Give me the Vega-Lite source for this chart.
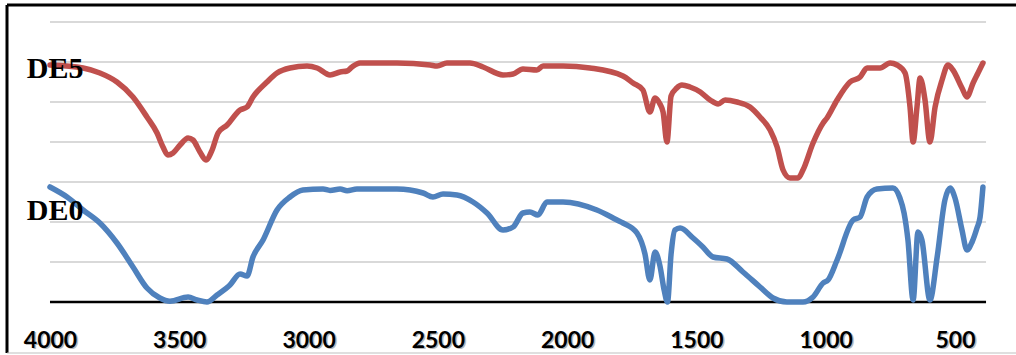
{
  "$schema": "https://vega.github.io/schema/vega-lite/v6.json",
  "width": 1009.5,
  "height": 348,
  "autosize": "none",
  "padding": {"left": 6.5, "top": 4.5, "right": 0, "bottom": 2.5},
  "background": "white",
  "config": {"view": {"stroke": null}},
  "datasets": {
    "grid": [{"g": 1}, {"g": 2}, {"g": 3}, {"g": 4}, {"g": 5}, {"g": 6}, {"g": 7}],
    "ticks": [{"t": 4000}, {"t": 3500}, {"t": 3000}, {"t": 2500}, {"t": 2000}, {"t": 1500}, {"t": 1000}, {"t": 500}],
    "spectra": [
      {"s": "DE5", "wn": 4000, "a": 5.925}, {"s": "DE5", "wn": 3872, "a": 5.85}, {"s": "DE5", "wn": 3807, "a": 5.725},
      {"s": "DE5", "wn": 3741, "a": 5.5}, {"s": "DE5", "wn": 3679, "a": 5.125}, {"s": "DE5", "wn": 3625, "a": 4.625},
      {"s": "DE5", "wn": 3586, "a": 4.225}, {"s": "DE5", "wn": 3563, "a": 3.875}, {"s": "DE5", "wn": 3544, "a": 3.675},
      {"s": "DE5", "wn": 3524, "a": 3.725}, {"s": "DE5", "wn": 3497, "a": 3.925}, {"s": "DE5", "wn": 3466, "a": 4.1},
      {"s": "DE5", "wn": 3447, "a": 4.05}, {"s": "DE5", "wn": 3420, "a": 3.75}, {"s": "DE5", "wn": 3397, "a": 3.55},
      {"s": "DE5", "wn": 3373, "a": 3.8}, {"s": "DE5", "wn": 3350, "a": 4.225}, {"s": "DE5", "wn": 3315, "a": 4.425},
      {"s": "DE5", "wn": 3265, "a": 4.8}, {"s": "DE5", "wn": 3238, "a": 4.875}, {"s": "DE5", "wn": 3215, "a": 5.125},
      {"s": "DE5", "wn": 3161, "a": 5.5}, {"s": "DE5", "wn": 3122, "a": 5.725}, {"s": "DE5", "wn": 3072, "a": 5.85},
      {"s": "DE5", "wn": 3006, "a": 5.9}, {"s": "DE5", "wn": 2967, "a": 5.85}, {"s": "DE5", "wn": 2917, "a": 5.675},
      {"s": "DE5", "wn": 2878, "a": 5.75}, {"s": "DE5", "wn": 2851, "a": 5.775}, {"s": "DE5", "wn": 2832, "a": 5.875},
      {"s": "DE5", "wn": 2801, "a": 5.975}, {"s": "DE5", "wn": 2658, "a": 5.975}, {"s": "DE5", "wn": 2530, "a": 5.925},
      {"s": "DE5", "wn": 2503, "a": 5.9}, {"s": "DE5", "wn": 2465, "a": 5.975}, {"s": "DE5", "wn": 2376, "a": 5.975},
      {"s": "DE5", "wn": 2325, "a": 5.875}, {"s": "DE5", "wn": 2248, "a": 5.675}, {"s": "DE5", "wn": 2209, "a": 5.7},
      {"s": "DE5", "wn": 2171, "a": 5.825}, {"s": "DE5", "wn": 2117, "a": 5.8}, {"s": "DE5", "wn": 2093, "a": 5.9},
      {"s": "DE5", "wn": 2016, "a": 5.9}, {"s": "DE5", "wn": 1912, "a": 5.85}, {"s": "DE5", "wn": 1784, "a": 5.65},
      {"s": "DE5", "wn": 1745, "a": 5.475}, {"s": "DE5", "wn": 1707, "a": 5.3}, {"s": "DE5", "wn": 1680, "a": 4.75},
      {"s": "DE5", "wn": 1660, "a": 5.1}, {"s": "DE5", "wn": 1641, "a": 4.95}, {"s": "DE5", "wn": 1629, "a": 4.75},
      {"s": "DE5", "wn": 1614, "a": 4.0}, {"s": "DE5", "wn": 1598, "a": 5.15}, {"s": "DE5", "wn": 1576, "a": 5.35},
      {"s": "DE5", "wn": 1556, "a": 5.425}, {"s": "DE5", "wn": 1525, "a": 5.375}, {"s": "DE5", "wn": 1485, "a": 5.25},
      {"s": "DE5", "wn": 1447, "a": 5.05}, {"s": "DE5", "wn": 1416, "a": 4.95}, {"s": "DE5", "wn": 1389, "a": 5.05},
      {"s": "DE5", "wn": 1343, "a": 5.0}, {"s": "DE5", "wn": 1293, "a": 4.875}, {"s": "DE5", "wn": 1254, "a": 4.625},
      {"s": "DE5", "wn": 1215, "a": 4.3}, {"s": "DE5", "wn": 1188, "a": 3.875}, {"s": "DE5", "wn": 1165, "a": 3.3},
      {"s": "DE5", "wn": 1138, "a": 3.1}, {"s": "DE5", "wn": 1107, "a": 3.1}, {"s": "DE5", "wn": 1088, "a": 3.3},
      {"s": "DE5", "wn": 1049, "a": 3.975}, {"s": "DE5", "wn": 1010, "a": 4.475}, {"s": "DE5", "wn": 995, "a": 4.6},
      {"s": "DE5", "wn": 956, "a": 5.05}, {"s": "DE5", "wn": 906, "a": 5.5}, {"s": "DE5", "wn": 867, "a": 5.625},
      {"s": "DE5", "wn": 840, "a": 5.85}, {"s": "DE5", "wn": 790, "a": 5.85}, {"s": "DE5", "wn": 751, "a": 5.975},
      {"s": "DE5", "wn": 724, "a": 5.925}, {"s": "DE5", "wn": 693, "a": 5.725}, {"s": "DE5", "wn": 674, "a": 4.875},
      {"s": "DE5", "wn": 662, "a": 4.0}, {"s": "DE5", "wn": 647, "a": 4.875}, {"s": "DE5", "wn": 635, "a": 5.6},
      {"s": "DE5", "wn": 616, "a": 5.05}, {"s": "DE5", "wn": 597, "a": 4.0}, {"s": "DE5", "wn": 577, "a": 4.875},
      {"s": "DE5", "wn": 550, "a": 5.55}, {"s": "DE5", "wn": 527, "a": 5.925}, {"s": "DE5", "wn": 508, "a": 5.8},
      {"s": "DE5", "wn": 473, "a": 5.35}, {"s": "DE5", "wn": 454, "a": 5.125}, {"s": "DE5", "wn": 430, "a": 5.475},
      {"s": "DE5", "wn": 411, "a": 5.725}, {"s": "DE5", "wn": 392, "a": 5.975},
      {"s": "DE0", "wn": 4000, "a": 2.875}, {"s": "DE0", "wn": 3934, "a": 2.625}, {"s": "DE0", "wn": 3872, "a": 2.3},
      {"s": "DE0", "wn": 3807, "a": 1.975}, {"s": "DE0", "wn": 3741, "a": 1.475}, {"s": "DE0", "wn": 3679, "a": 0.875},
      {"s": "DE0", "wn": 3625, "a": 0.35}, {"s": "DE0", "wn": 3575, "a": 0.1}, {"s": "DE0", "wn": 3536, "a": 0.02},
      {"s": "DE0", "wn": 3466, "a": 0.125}, {"s": "DE0", "wn": 3431, "a": 0.05}, {"s": "DE0", "wn": 3393, "a": 0.0},
      {"s": "DE0", "wn": 3354, "a": 0.175}, {"s": "DE0", "wn": 3304, "a": 0.425}, {"s": "DE0", "wn": 3265, "a": 0.7},
      {"s": "DE0", "wn": 3238, "a": 0.65}, {"s": "DE0", "wn": 3215, "a": 1.125}, {"s": "DE0", "wn": 3176, "a": 1.55},
      {"s": "DE0", "wn": 3122, "a": 2.3}, {"s": "DE0", "wn": 3072, "a": 2.625}, {"s": "DE0", "wn": 3022, "a": 2.8},
      {"s": "DE0", "wn": 2944, "a": 2.825}, {"s": "DE0", "wn": 2917, "a": 2.79}, {"s": "DE0", "wn": 2878, "a": 2.825},
      {"s": "DE0", "wn": 2851, "a": 2.78}, {"s": "DE0", "wn": 2813, "a": 2.825}, {"s": "DE0", "wn": 2658, "a": 2.825},
      {"s": "DE0", "wn": 2557, "a": 2.725}, {"s": "DE0", "wn": 2519, "a": 2.625}, {"s": "DE0", "wn": 2480, "a": 2.7},
      {"s": "DE0", "wn": 2426, "a": 2.675}, {"s": "DE0", "wn": 2364, "a": 2.5}, {"s": "DE0", "wn": 2310, "a": 2.225},
      {"s": "DE0", "wn": 2248, "a": 1.8}, {"s": "DE0", "wn": 2209, "a": 1.875}, {"s": "DE0", "wn": 2171, "a": 2.225},
      {"s": "DE0", "wn": 2144, "a": 2.25}, {"s": "DE0", "wn": 2113, "a": 2.175}, {"s": "DE0", "wn": 2078, "a": 2.5},
      {"s": "DE0", "wn": 2016, "a": 2.5}, {"s": "DE0", "wn": 1885, "a": 2.3}, {"s": "DE0", "wn": 1807, "a": 2.05},
      {"s": "DE0", "wn": 1784, "a": 1.975}, {"s": "DE0", "wn": 1730, "a": 1.725}, {"s": "DE0", "wn": 1699, "a": 1.2},
      {"s": "DE0", "wn": 1680, "a": 0.55}, {"s": "DE0", "wn": 1660, "a": 1.25}, {"s": "DE0", "wn": 1641, "a": 0.9},
      {"s": "DE0", "wn": 1625, "a": 0.3}, {"s": "DE0", "wn": 1612, "a": 0.0}, {"s": "DE0", "wn": 1598, "a": 1.2},
      {"s": "DE0", "wn": 1583, "a": 1.8}, {"s": "DE0", "wn": 1563, "a": 1.85}, {"s": "DE0", "wn": 1513, "a": 1.6},
      {"s": "DE0", "wn": 1475, "a": 1.375}, {"s": "DE0", "wn": 1436, "a": 1.125}, {"s": "DE0", "wn": 1382, "a": 1.075},
      {"s": "DE0", "wn": 1320, "a": 0.75}, {"s": "DE0", "wn": 1254, "a": 0.375}, {"s": "DE0", "wn": 1204, "a": 0.1},
      {"s": "DE0", "wn": 1150, "a": 0.0}, {"s": "DE0", "wn": 1088, "a": 0.0}, {"s": "DE0", "wn": 1049, "a": 0.125},
      {"s": "DE0", "wn": 1010, "a": 0.475}, {"s": "DE0", "wn": 991, "a": 0.55}, {"s": "DE0", "wn": 956, "a": 1.05},
      {"s": "DE0", "wn": 894, "a": 2.05}, {"s": "DE0", "wn": 867, "a": 2.125}, {"s": "DE0", "wn": 840, "a": 2.625},
      {"s": "DE0", "wn": 802, "a": 2.825}, {"s": "DE0", "wn": 740, "a": 2.85}, {"s": "DE0", "wn": 713, "a": 2.6},
      {"s": "DE0", "wn": 697, "a": 2.225}, {"s": "DE0", "wn": 682, "a": 1.55}, {"s": "DE0", "wn": 662, "a": 0.05},
      {"s": "DE0", "wn": 643, "a": 1.75}, {"s": "DE0", "wn": 628, "a": 1.55}, {"s": "DE0", "wn": 597, "a": 0.05},
      {"s": "DE0", "wn": 569, "a": 1.125}, {"s": "DE0", "wn": 539, "a": 2.55}, {"s": "DE0", "wn": 519, "a": 2.85},
      {"s": "DE0", "wn": 500, "a": 2.6}, {"s": "DE0", "wn": 473, "a": 1.8}, {"s": "DE0", "wn": 454, "a": 1.3},
      {"s": "DE0", "wn": 434, "a": 1.5}, {"s": "DE0", "wn": 415, "a": 1.85}, {"s": "DE0", "wn": 403, "a": 2.125},
      {"s": "DE0", "wn": 392, "a": 2.875}
    ]
  },
  "resolve": {"axis": {"x": "independent", "y": "independent"}},
  "layer": [
    {
      "data": {"name": "grid"},
      "mark": {"type": "rule", "color": "#d9d9d9", "strokeWidth": 2},
      "encoding": {
        "x": {"datum": 4000, "type": "quantitative",
          "scale": {"domain": [264.1, 4168.2], "reverse": true, "nice": false, "zero": false},
          "axis": {"orient": "bottom", "values": [4000, 3500, 3000, 2500, 2000, 1500, 1000, 500], "format": "d",
            "title": null, "grid": false, "ticks": false, "tickSize": 0, "domainColor": "#bfbfbf", "domainWidth": 1,
            "labelPadding": -5.5, "labelBaseline": "alphabetic", "labelFont": "Lato", "labelFontWeight": "bold",
            "labelFontSize": 23, "labelColor": "black", "labelFlush": false, "labelOverlap": false, "labelBound": false,
            "zindex": 2}},
        "x2": {"datum": 380},
        "y": {"field": "g", "type": "quantitative",
          "scale": {"domain": [-1.2625, 7.4375], "nice": false, "zero": false},
          "axis": {"orient": "left", "title": null, "labels": false, "ticks": false, "grid": false,
            "domainColor": "black", "domainWidth": 3}}
      }
    },
    {
      "data": {"name": "ticks"},
      "mark": {"type": "text", "font": "Lato", "fontWeight": "bold", "fontSize": 23, "color": "#7f7f7f",
        "opacity": 0.55, "align": "center", "baseline": "alphabetic", "dx": 2, "dy": 2},
      "encoding": {
        "x": {"field": "t", "type": "quantitative", "axis": null},
        "y": {"datum": -1.125, "type": "quantitative", "axis": null},
        "text": {"field": "t", "type": "quantitative", "format": "d"}
      }
    },
    {
      "data": {"values": [{}]},
      "mark": {"type": "rule", "color": "black", "strokeWidth": 2.5},
      "encoding": {
        "x": {"datum": 4000, "type": "quantitative",
          "axis": {"orient": "top", "title": null, "labels": false, "ticks": false, "grid": false,
            "domainColor": "black", "domainWidth": 3}},
        "x2": {"datum": 380},
        "y": {"datum": 0, "type": "quantitative", "axis": null}
      }
    },
    {
      "data": {"name": "spectra"},
      "mark": {"type": "line", "strokeWidth": 5.5, "strokeCap": "round", "strokeJoin": "round", "interpolate": "monotone"},
      "encoding": {
        "x": {"field": "wn", "type": "quantitative", "axis": null},
        "y": {"field": "a", "type": "quantitative", "axis": null},
        "color": {"field": "s", "type": "nominal", "legend": null,
          "scale": {"domain": ["DE5", "DE0"], "range": ["#C0504D", "#4F81BD"]}}
      }
    },
    {
      "data": {"values": [{}]},
      "mark": {"type": "text", "text": "DE5", "font": "Liberation Serif", "fontWeight": "bold", "fontSize": 30,
        "align": "left", "baseline": "alphabetic", "color": "black"},
      "encoding": {
        "x": {"datum": 4090, "type": "quantitative", "axis": null},
        "y": {"datum": 5.6, "type": "quantitative", "axis": null}
      }
    },
    {
      "data": {"values": [{}]},
      "mark": {"type": "text", "text": "DE0", "font": "Liberation Serif", "fontWeight": "bold", "fontSize": 30,
        "align": "left", "baseline": "alphabetic", "color": "black"},
      "encoding": {
        "x": {"datum": 4090, "type": "quantitative", "axis": null},
        "y": {"datum": 2.05, "type": "quantitative", "axis": null}
      }
    }
  ]
}
